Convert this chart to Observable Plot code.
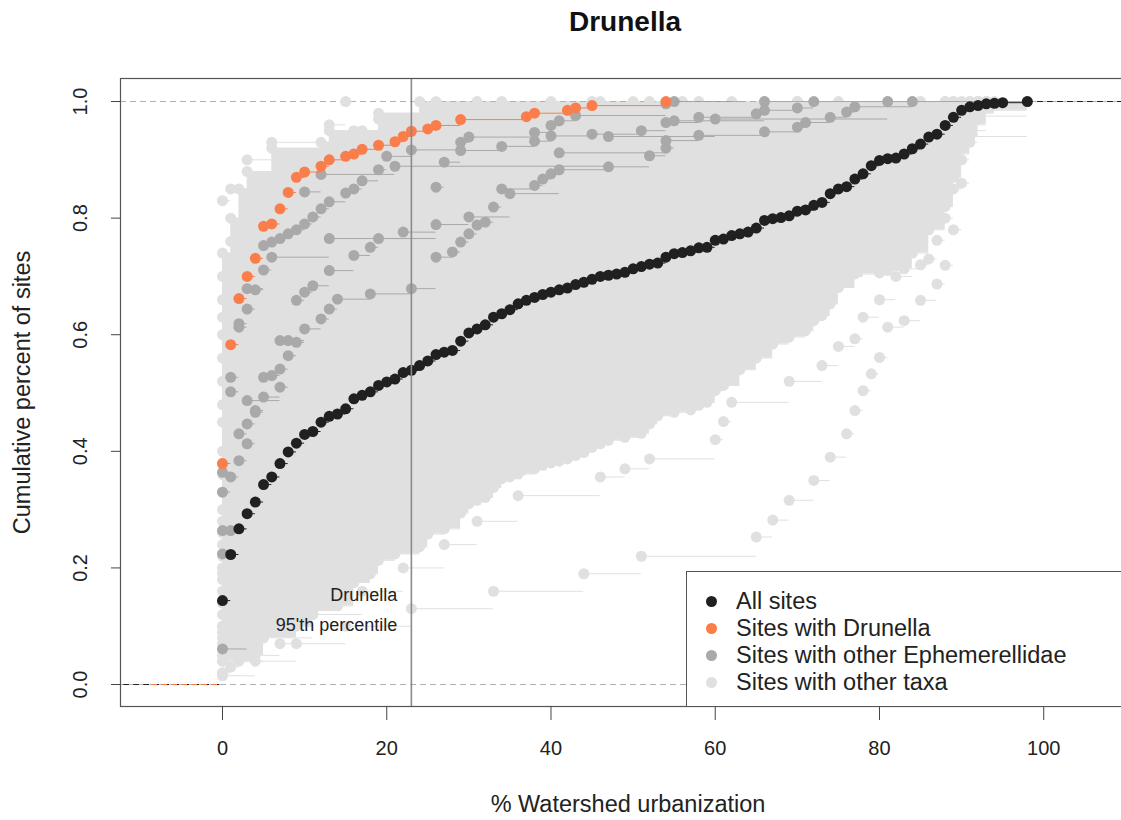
<!DOCTYPE html>
<html><head><meta charset="utf-8">
<script src="https://cdn.jsdelivr.net/npm/d3@7"></script>
<script src="https://cdn.jsdelivr.net/npm/@observablehq/plot@0.6"></script>
<style>
body{margin:0;background:#fff;font-family:"Liberation Sans",Arial,Helvetica,sans-serif;}
#wrap{position:relative;width:1121px;height:820px;overflow:hidden;background:#fff;}
#title{position:absolute;left:625px;top:8px;transform:translateX(-50%);font-weight:bold;font-size:28px;line-height:28px;color:#111;white-space:nowrap;}
#chart{position:absolute;left:0;top:45px;}
#legend{position:absolute;left:686px;top:571px;width:460px;height:134px;border:1px solid #555;background:#fff;}
#legend .item{position:absolute;left:0;height:27px;line-height:27px;font-size:23.5px;color:#222;white-space:nowrap;}
#legend .dot{position:absolute;left:18.5px;top:8px;width:11px;height:11px;border-radius:50%;}
#legend .lab{position:absolute;left:49px;top:0;}
</style></head>
<body><div id="wrap"><div id="title"></div><div id="chart"></div><div id="legend"></div></div>
<script>
const titleText = "Drunella";
const xLabel = "% Watershed urbanization";
const yLabel = "Cumulative percent of sites";
const xTicks = [0, 20, 40, 60, 80, 100];
const yTicks = [0, 0.2, 0.4, 0.6, 0.8, 1.0];
const percentile95 = 23;
const annotation = ["Drunella", "95'th percentile"];
const legendLabels = ["All sites", "Sites with Drunella", "Sites with other Ephemerellidae", "Sites with other taxa"];
const colors = {all: "#202020", drunella: "#F97E4B", ephem: "#A9A9A9", other: "#E0E0E0"};

// All sites ECDF: urbanization (%) and cumulative percent of sites
const allSitesX = [0,1,2,3,4,5,6,7,8,9,10,11,12,13,14,15,16,17,18,19,20,21,22,23,24,25,26,27,28,29,30,31,32,33,34,35,36,37,38,39,40,41,42,43,44,45,46,47,48,49,50,51,52,53,54,55,56,57,58,59,60,61,62,63,64,65,66,67,68,69,70,71,72,73,74,75,76,77,78,79,80,81,82,83,84,85,86,87,88,89,90,91,92,93,94,95,98];
const allSitesPct = [14.4,22.3,26.7,29.3,31.3,34.3,35.6,37.9,39.9,41.4,42.9,43.4,45.0,46.0,46.4,47.3,49.0,49.6,50.2,51.3,51.9,52.4,53.5,53.9,54.7,55.5,56.6,57.0,57.3,58.9,60.3,61.0,61.7,63.0,63.6,64.3,65.3,65.9,66.4,66.9,67.3,67.7,68.0,68.6,69.0,69.5,70.0,70.2,70.4,70.7,71.3,71.7,72.1,72.3,73.3,73.9,74.1,74.4,74.9,75.0,76.2,76.4,77.0,77.3,77.6,78.3,79.6,79.9,80.1,80.4,81.2,81.4,82.2,82.7,84.2,85.0,85.4,86.7,87.6,89.0,89.9,90.2,90.3,91.0,91.9,92.7,93.9,94.4,95.9,97.3,98.5,99.1,99.3,99.6,99.7,99.8,100];

// Sites with Drunella
const drunellaX = [0,1,2,3,4,5,6,7,8,9,10,12,13,15,16,17,19,21,22,23,25,26,29,37,38,42,43,45,54];
const drunellaPct = [37.9,58.3,66.2,70.0,73.1,78.6,79.0,81.6,84.4,87.0,87.9,88.9,90.0,90.6,91.0,91.8,92.5,93.1,94.0,94.9,95.3,95.9,96.9,97.4,98.0,98.5,98.9,99.3,100];

// Other Ephemerellidae taxa: [urbanization, cumulative percent]
const ephemerellidae = [
 [[0,36.4],[1,52.7],[2,61.9],[3,67.9],[5,75.3],[6,75.9],[7,76.5],[8,77.3],[9,78],[10,79],[11,80.2],[12,81.6],[13,82.8],[15,84.3],[16,85],[17,86.4],[19,88.3],[20,90.6],[23,91.7],[29,93],[30,93.9],[38,94.7],[40,95.9],[41,96.7],[43,97.6],[54,99.6],[55,100]],
 [[0,33],[1,50.2],[2,61.3],[3,64.4],[4,67.7],[5,71.1],[6,73.3],[13,76.5],[22,77.6],[26,85.3],[27,89.6],[29,91.6],[34,92.3],[38,93.2],[40,94.1],[45,94.4],[51,95],[54,96.4],[58,97.3],[65,97.9],[66,98.5],[70,98.9],[72,100]],
 [[0,26.4],[1,35.6],[2,43],[3,44.7],[4,47],[5,49.3],[7,51],[8,56.4],[9,58.7],[10,61],[12,62.7],[13,64.4],[14,66.1],[18,67],[23,67.9],[26,73.3],[28,74.2],[29,75.9],[30,77.3],[31,78.8],[32,79.3],[33,81.9],[34,85],[38,85.6],[39,86.7],[40,87.6],[41,88.3],[47,88.8],[52,90.7],[54,93.3],[58,94.2],[66,94.8],[70,95.6],[71,96.4],[74,97.3],[76,98.2],[77,99.1],[84,100]],
 [[0,22.4],[1,26.4],[2,38.4],[3,41.3],[4,46.7],[5,52.7],[6,53],[7,54.1],[8,59],[9,65.9],[10,67.3],[11,68.4],[13,71],[16,73.6],[18,75],[19,76.5],[26,78.9],[30,80.2],[35,84.2],[41,91.2],[54,92],[55,96.7],[66,100]],
 [[0,6.1],[3,48.7],[7,59],[10,84.5],[12,87.5],[21,88.9],[47,94],[60,97],[81,100]]
];

// Other taxa (upper, steep curves)
const otherTaxaUpper = [
 [[0,74],[1,80],[2,85],[3,88],[6,93],[13,96],[15,100]],
 [[0,83],[1,85],[3,90],[6,92],[13,95],[19,98],[24,100]],
 [[0,63],[1,70],[2,73],[3,77],[4,80],[6,83],[8,87],[11,90],[14,93],[19,97],[26,100]],
 [[0,56],[1,62],[2,67],[3,71],[4,73],[5,76],[6,78],[7,80],[9,82],[10,84],[12,87],[15,89],[18,91],[22,93],[28,96],[36,98],[45,100]],
 [[0,70],[1,76],[2,79],[4,83],[5,86],[7,89],[9,91],[12,93],[16,95],[20,97],[30,99],[34,100]],
 [[0,48],[1,55],[2,60],[3,64],[4,67],[5,70],[6,72],[7,74],[8,77],[9,79],[11,81],[12,83],[14,85],[16,87],[19,89],[22,91],[26,93],[31,95],[38,97],[48,99],[52,100]],
 [[0,40],[1,47],[2,52],[3,56],[4,59],[5,62],[6,65],[7,67],[8,69],[10,72],[11,74],[13,76],[15,78],[17,80],[19,82],[21,84],[24,86],[27,88],[31,90],[35,92],[40,94],[46,96],[55,98],[62,100]],
 [[0,60],[1,67],[2,72],[3,76],[4,79],[6,82],[7,85],[9,87],[11,89],[13,91],[16,93],[20,95],[25,97],[32,99],[40,100]],
 [[0,66],[1,72],[2,77],[3,81],[5,84],[7,87],[9,89],[11,91],[14,93],[17,95],[22,97],[27,99],[31,100]],
 [[0,52],[1,58],[2,63],[3,67],[5,71],[6,74],[8,77],[10,80],[12,83],[14,86],[17,89],[21,92],[25,94],[30,96],[38,98],[46,100]]
];

// Other taxa (middle curves)
const otherTaxaMiddle = [
 [[0,33],[1,40],[2,45],[3,49],[4,52],[5,55],[6,58],[8,61],[9,63],[11,66],[12,68],[14,70],[16,72],[18,74],[20,76],[22,78],[25,80],[28,82],[31,84],[34,86],[37,88],[41,90],[45,92],[50,94],[55,96],[62,98],[70,100]],
 [[0,28],[1,34],[2,38],[3,42],[4,45],[5,48],[7,51],[8,53],[10,56],[12,59],[14,61],[16,64],[18,66],[21,68],[23,70],[26,72],[29,74],[32,76],[35,78],[38,80],[42,82],[46,84],[50,86],[54,88],[58,90],[62,92],[67,94],[72,96],[78,98],[85,100]],
 [[0,36],[1,44],[2,50],[3,55],[4,60],[6,64],[7,67],[9,70],[11,73],[13,76],[15,79],[18,82],[21,85],[24,87],[28,89],[32,91],[36,93],[41,95],[47,97],[53,99],[58,100]],
 [[0,24],[1,30],[2,35],[3,39],[5,43],[6,46],[8,49],[10,52],[12,55],[14,57],[17,60],[19,62],[22,64],[25,66],[28,68],[31,70],[34,72],[37,74],[40,76],[44,78],[48,80],[52,82],[56,84],[60,86],[64,88],[68,90],[72,92],[76,94],[80,96],[84,98],[88,100]],
 [[0,45],[1,53],[2,58],[3,63],[4,67],[5,70],[7,73],[8,76],[10,79],[12,82],[14,84],[17,87],[20,89],[23,91],[27,93],[32,95],[37,97],[44,99],[50,100]],
 [[0,30],[1,37],[2,42],[3,47],[4,51],[5,54],[6,57],[8,60],[10,63],[12,66],[14,69],[17,72],[20,75],[23,78],[26,81],[30,84],[34,87],[38,90],[43,92],[48,94],[54,96],[60,98],[66,100]],
 [[0,20],[1,26],[2,31],[3,35],[4,38],[6,42],[8,45],[10,48],[12,51],[15,54],[18,57],[21,60],[24,63],[27,66],[30,69],[33,72],[36,75],[40,78],[44,81],[48,84],[52,87],[56,90],[60,92],[65,94],[70,96],[75,98],[81,100]],
 [[0,38],[1,46],[3,54],[4,58],[6,62],[8,66],[10,70],[13,74],[16,78],[19,82],[22,85],[26,88],[30,91],[35,94],[40,96],[47,98],[56,100]],
 [[0,26],[2,34],[3,38],[5,42],[7,46],[9,50],[11,54],[13,58],[16,62],[19,66],[22,70],[25,74],[29,78],[33,82],[37,86],[42,89],[47,92],[53,95],[60,97],[68,99],[75,100]],
 [[0,16],[1,22],[3,28],[5,33],[7,37],[9,41],[12,45],[15,49],[18,53],[21,57],[24,61],[28,65],[32,69],[36,73],[40,77],[45,81],[50,85],[55,88],[60,91],[66,94],[72,96],[78,98],[84,100]],
 [[0,18],[1,24],[2,29],[3,34],[4,38],[5,42],[7,46],[9,50],[11,54],[13,58],[15,62],[17,65],[20,68],[23,71],[26,74],[29,77],[33,80],[37,83],[41,86],[46,89],[51,92],[57,95],[64,98],[70,100]],
 [[0,22],[1,28],[2,33],[4,37],[6,40],[8,43],[10,46],[13,49],[15,52],[18,55],[21,58],[24,60],[27,62],[30,64],[33,66],[36,68],[39,70],[42,72],[46,74],[50,76],[54,78],[58,80],[62,82],[66,84],[70,86],[74,88],[78,90],[82,93],[85,96],[88,100]],
 [[0,14],[1,20],[2,25],[4,30],[5,34],[7,38],[9,42],[11,45],[13,48],[15,51],[17,54],[20,57],[23,60],[26,63],[29,66],[32,69],[35,71],[38,73],[42,75],[46,77],[50,79],[54,81],[58,83],[62,85],[66,87],[70,89],[74,91],[78,93],[82,95],[86,97],[89,100]],
 [[0,10],[2,18],[4,24],[6,30],[9,36],[12,42],[15,47],[18,52],[22,57],[26,62],[30,67],[34,71],[38,75],[42,79],[46,83],[50,86],[55,89],[60,92],[65,94],[70,95],[75,96],[80,97],[88,97.5],[98,100]],
 [[0,19],[2,30],[4,38],[6,44],[8,50],[11,56],[14,62],[17,67],[20,72],[24,77],[28,82],[32,86],[37,90],[43,93],[50,94],[58,95],[66,96],[74,97],[82,98],[89,98.5],[98,100]]
];

// Other taxa (lower curves and outliers)
const otherTaxaLower = [
 [[0,12],[1,16],[2,19],[3,22],[5,25],[7,28],[9,31],[11,34],[13,37],[16,40],[19,43],[22,46],[25,49],[28,52],[32,55],[36,58],[40,61],[44,64],[48,67],[52,70],[56,73],[60,76],[64,79],[68,82],[72,85],[76,88],[80,91],[84,94],[87,97],[90,100]],
 [[0,8],[1,11],[3,14],[5,17],[7,20],[9,23],[11,26],[14,29],[17,32],[20,35],[23,38],[26,41],[29,44],[33,47],[37,50],[41,53],[45,56],[49,59],[53,62],[57,65],[61,68],[65,71],[69,74],[73,77],[77,80],[80,83],[83,86],[86,89],[88,92],[90,95],[92,98],[94,100]],
 [[0,5],[2,8],[4,11],[6,14],[8,17],[10,20],[12,23],[15,26],[18,29],[21,32],[24,35],[28,38],[32,41],[36,44],[40,47],[44,50],[48,53],[52,56],[56,59],[60,62],[64,65],[68,68],[72,72],[76,76],[79,80],[82,84],[85,88],[88,92],[90,96],[92,100]],
 [[0,2],[1,3],[2,4],[4,5],[7,7],[9,10],[11,12.7],[14,13.5],[16,17.5],[18,19],[19,21.3],[21,22.4],[24,23.6],[25,25.8],[27,26.7],[29,29.4],[30,31],[31,31.6],[32,32.1],[33,33.8],[34,35.3],[35,35.6],[36,36.1],[38,37],[39,37.6],[40,38],[41,38.3],[42,38.7],[43,39.3],[44,39.8],[45,40.7],[46,41.3],[47,41.9],[49,42.4],[51,43.1],[52,44.7],[53,46.1],[55,46.7],[57,47.1],[58,47.9],[59,48.4],[60,50.4],[61,51.3],[63,54],[65,56],[67,58.4],[69,59.6],[71,60.7],[72,62.4],[73,63.3],[74,65.3],[75,68.1],[77,70.4],[80,70.6],[81,71],[83,71.3],[85,72],[86,73],[87,76.2],[88,80],[89,85],[90,90],[91,94],[92,97],[93,100]],
 [[0,6],[1,9],[3,9.8],[5,12],[7,14],[8,19.3],[10,19.6],[12,20.4],[14,20.7],[16,23],[19,25.3],[21,29.3],[22,34.4],[25,37.6],[29,40],[33,43],[37,46],[41,49],[45,52],[50,55],[55,58],[60,61],[65,64],[70,67],[75,71],[80,76],[84,81],[87,86],[89,91],[91,95],[93,100]],
 [[0,10],[1,14],[2,17],[4,20],[6,24],[8,27],[10,30],[12,33],[14,36],[17,39],[20,42],[23,45],[26,48],[30,51],[34,54],[38,57],[42,60],[46,63],[50,66],[55,69],[60,72],[65,75],[70,79],[74,83],[78,87],[82,91],[86,95],[89,100]],
 [[0,7],[2,10],[4,13],[6,16],[9,19],[12,22],[15,25],[18,28],[21,31],[25,34],[29,37],[33,40],[37,43],[41,46],[45,49],[49,52],[53,55],[57,58],[61,61],[65,64],[69,67],[73,70],[77,74],[80,78],[83,82],[85,86],[87,90],[89,94],[91,100]],
 [[0,14],[1,19],[2,23],[3,26],[4,29],[6,32],[8,35],[10,38],[12,41],[14,44],[16,47],[19,50],[22,53],[25,56],[28,59],[32,62],[36,65],[40,68],[44,71],[49,74],[54,77],[59,80],[64,83],[69,86],[74,89],[79,92],[83,93],[87,94],[98,100]],
 [[0,9],[2,13],[3,16],[5,19],[7,22],[9,25],[11,28],[13,31],[16,34],[19,37],[22,40],[25,43],[28,46],[32,49],[36,52],[40,55],[44,58],[48,61],[52,64],[56,67],[60,70],[64,73],[68,76],[72,79],[76,82],[79,85],[82,88],[85,91],[88,95],[91,100]],
 [[0,4],[1,6],[3,8],[5,10],[8,12],[10,15],[13,18],[16,21],[19,24],[22,27],[26,30],[29,33],[33,36],[37,39],[41,42],[45,45],[49,48],[53,51],[57,54],[61,57],[65,60],[69,63],[72,66],[75,70],[78,74],[81,78],[84,82],[86,86],[88,90],[90,94],[92,100]],
 [[0,1.5],[4,4],[9,7],[15,10],[23,13],[33,16],[44,19],[51,22],[65,25.3],[67,28.2],[69,31.6],[72,35],[74,39],[76,43],[77,47],[78,50.4],[79,53.3],[80,56.1],[81,61.3],[83,62.4],[85,65.9],[87,68.7],[88,71.9],[89,78],[90,86],[91,93],[92,100]],
 [[0,4],[5,8],[11,12],[17,16],[22,20],[27,24],[31,28],[36,32.4],[46,35.6],[49,37],[52,38.7],[60,42],[61,45.1],[62,48.4],[69,52],[73,54.7],[75,58],[77,59.3],[78,63],[80,66],[82,70],[84,74],[86,78],[88,82],[89,87],[90,92],[91,96],[93,100]]
];

// ---- build ECDF geometry from the data ----
const zip = (xs, ps) => xs.map((x, i) => [x, ps[i]]);
const allSites = zip(allSitesX, allSitesPct);
const drunella = zip(drunellaX, drunellaPct);
const otherTaxa = [...otherTaxaUpper, ...otherTaxaMiddle, ...otherTaxaLower];

const steps = (list) => list.flatMap(s => d3.pairs(s, (a, b) => ({x1: a[0], x2: b[0], y: a[1] / 100})));
const points = (list) => list.flatMap(s => s.map(([x, p]) => ({x, y: p / 100})));
function tails(s) {
  const a = s[0][0], b = s[s.length - 1][0];
  const dr = Math.max(0.08 * (b - a), d3.median(d3.pairs(s, (p, q) => q[0] - p[0])) || 0);
  return [{x1: a - 2 * dr, x2: a, y: 0}, {x1: b, x2: b + 2 * dr, y: 1}];
}
const rightTails = (list) => list.map(s => tails(s)[1]);
// ECDF value of a taxon at x
function ecdfAt(s, x) { let v = 0; for (const [k, p] of s) { if (k <= x) v = p; else break; } return v / 100; }
// dense overlap of the other-taxa curves (where many curves overlap, the cloud is solid)
const knots = Array.from(new Set(otherTaxa.flatMap(s => s.map(d => d[0])))).sort(d3.ascending);
const overlap = knots.map(x => {
  const v = otherTaxa.map(s => ecdfAt(s, x)).sort(d3.ascending);
  return {x, lo: v[2], hi: v[v.length - 2]};
});

const font = '"Liberation Sans", Arial, Helvetica, sans-serif';
const R = 5.5;
const chart = Plot.plot({
  width: 1121, height: 775,
  marginLeft: 120, marginRight: -6, marginTop: 33, marginBottom: 114,
  x: {domain: [-12.42, 110.2], axis: null},
  y: {domain: [-0.0377, 1.0395], axis: null},
  style: {fontFamily: font, background: "transparent", overflow: "visible"},
  marks: [
    Plot.areaY(overlap, {x: "x", y1: "lo", y2: "hi", curve: "step-after", fill: colors.other}),
    Plot.ruleY([0, 1], {stroke: "#b0b0b0", strokeDasharray: "6,4", strokeWidth: 1}),
    Plot.ruleY(steps(otherTaxa), {x1: "x1", x2: "x2", y: "y", stroke: colors.other, strokeWidth: 1}),
    Plot.dot(points(otherTaxa), {x: "x", y: "y", r: R, fill: colors.other, stroke: "none"}),
    Plot.ruleY(steps(ephemerellidae), {x1: "x1", x2: "x2", y: "y", stroke: colors.ephem, strokeWidth: 1}),
    Plot.ruleY(rightTails(ephemerellidae), {x1: "x1", x2: "x2", y: "y", stroke: colors.ephem, strokeWidth: 1, clip: true}),
    Plot.dot(points(ephemerellidae), {x: "x", y: "y", r: R, fill: colors.ephem, stroke: "none"}),
    Plot.ruleY(steps([allSites]), {x1: "x1", x2: "x2", y: "y", stroke: colors.all, strokeWidth: 1}),
    Plot.ruleY(tails(allSites), {x1: "x1", x2: "x2", y: "y", stroke: colors.all, strokeWidth: 1, strokeDasharray: "6,4", clip: true}),
    Plot.dot(points([allSites]), {x: "x", y: "y", r: R, fill: colors.all, stroke: "none"}),
    Plot.ruleY(steps([drunella]), {x1: "x1", x2: "x2", y: "y", stroke: colors.drunella, strokeWidth: 1}),
    Plot.ruleY(tails(drunella), {x1: "x1", x2: "x2", y: "y", stroke: colors.drunella, strokeWidth: 1, strokeDasharray: "6,4", clip: true}),
    Plot.dot(points([drunella]), {x: "x", y: "y", r: R, fill: colors.drunella, stroke: "none"}),
    Plot.ruleX([percentile95], {stroke: "#8a8a8a", strokeWidth: 1.6}),
    Plot.text([percentile95], {x: d => d, frameAnchor: "bottom", dy: -106, dx: -14, textAnchor: "end", text: () => annotation[0], fontSize: 18, fill: "#222"}),
    Plot.text([percentile95], {x: d => d, frameAnchor: "bottom", dy: -76, dx: -14, textAnchor: "end", text: () => annotation[1], fontSize: 18, fill: "#222"}),
    Plot.frame({stroke: "#555", strokeWidth: 1.2}),
    Plot.axisY({ticks: yTicks, tickSize: 9, tickFormat: () => "", label: null, stroke: "#444"}),
    Plot.axisX({ticks: xTicks, tickSize: 14, tickFormat: () => "", label: null, stroke: "#444"}),
    Plot.text(yTicks, {y: d => d, frameAnchor: "left", dx: -40, rotate: -90, textAnchor: "middle", text: d => d.toFixed(1), fontSize: 20, fill: "#222"}),
    Plot.text(xTicks, {x: d => d, frameAnchor: "bottom", dy: 48, textAnchor: "middle", text: d => String(d), fontSize: 20, fill: "#222"}),
    Plot.text([xLabel], {frameAnchor: "bottom", dy: 105, dx: 4, textAnchor: "middle", text: d => d, fontSize: 23.5, fill: "#222"}),
    Plot.text([yLabel], {frameAnchor: "left", dx: -98, rotate: -90, textAnchor: "middle", text: d => d, fontSize: 23.5, fill: "#222"})
  ]
});
document.getElementById("chart").appendChild(chart);
document.getElementById("title").textContent = titleText;

const legendColors = [colors.all, colors.drunella, colors.ephem, colors.other];
const legend = document.getElementById("legend");
legendLabels.forEach((lab, i) => {
  const item = document.createElement("div");
  item.className = "item";
  item.style.top = (15.5 + 27 * i) + "px";
  item.innerHTML = `<span class="dot" style="background:${legendColors[i]}"></span><span class="lab"></span>`;
  item.querySelector(".lab").textContent = lab;
  legend.appendChild(item);
});
</script></body></html>
